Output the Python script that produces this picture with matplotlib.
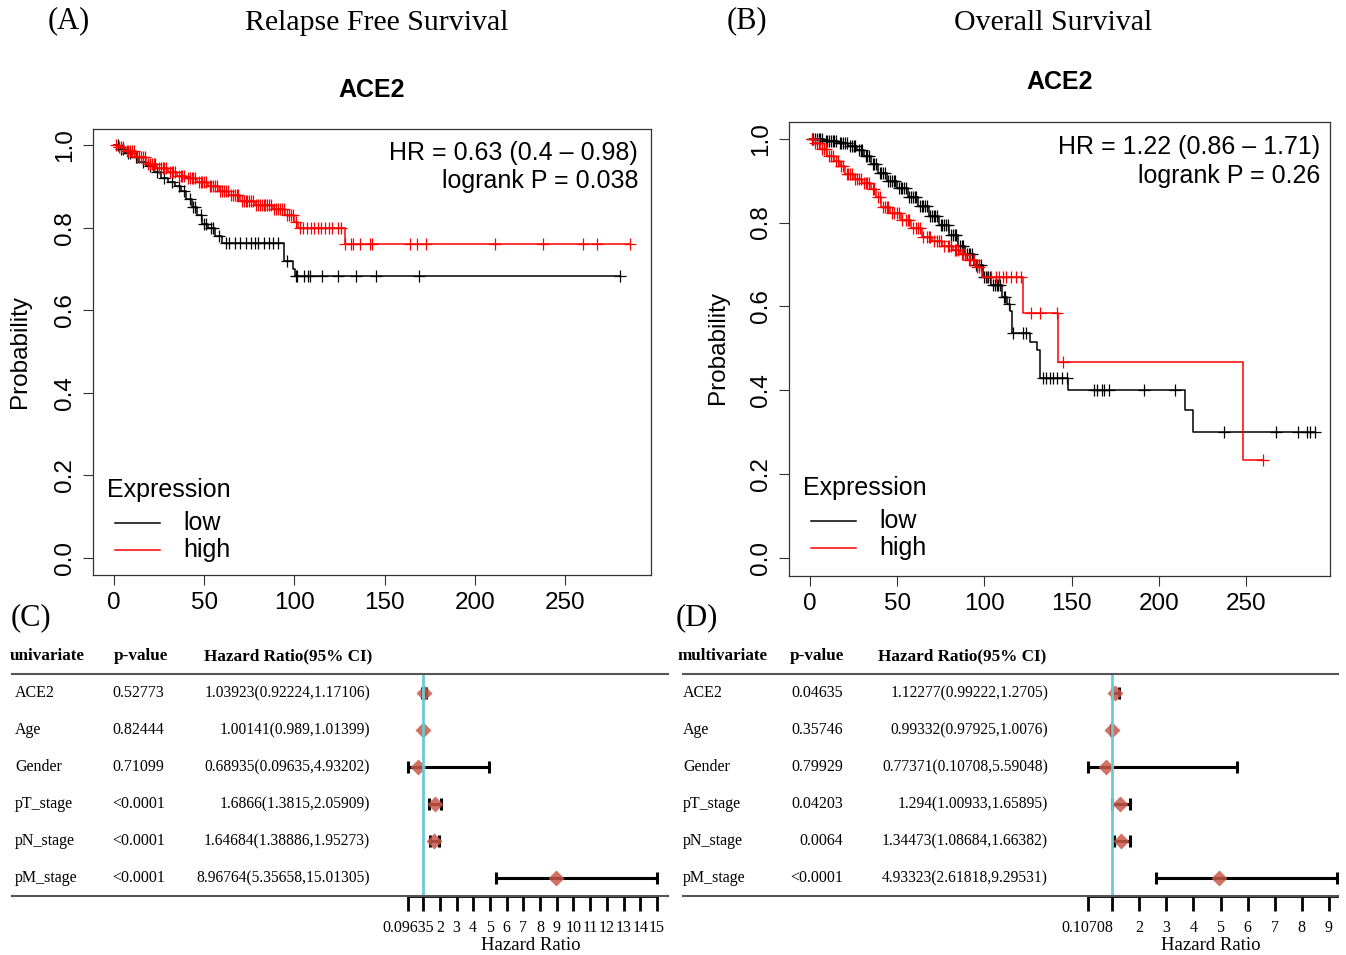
import numpy as np
import matplotlib
matplotlib.use('Agg')
import matplotlib.pyplot as plt
from matplotlib.lines import Line2D

W, H = 1346, 955
SANS = 'Liberation Sans'
SERIF = 'Liberation Serif'

# ---------------------------------------------
# Kaplan-Meier data: step times (months), survival after each step,
# and censoring times
# ---------------------------------------------
rfs_low_time = [0, 3, 6, 10, 14, 18, 22, 26, 30, 34, 37, 40, 43, 46, 49, 52, 56, 60, 94, 99, 100.5]
rfs_low_surv = [1.0, 0.99, 0.98, 0.97, 0.96, 0.95, 0.935, 0.92, 0.91, 0.90, 0.89, 0.87, 0.85,
                0.83, 0.81, 0.80, 0.78, 0.763, 0.72, 0.70, 0.683]
rfs_low_cens = [2, 4, 5, 8, 9, 12, 13, 16, 20, 24, 28, 32, 36, 39, 42, 44, 45, 48, 50, 51, 54, 55,
                58, 62, 64, 67, 70, 73, 76, 78, 80, 83, 86, 88, 91, 96, 100.7, 101.7, 105.6, 107.7,
                108.8, 115.6, 124.4, 134.4, 145.5, 169.2, 280.4]

rfs_high_time = [0, 2, 6, 12, 18, 24, 30, 35, 40, 46, 52, 58, 64, 70, 78, 88, 95, 100, 102, 128]
rfs_high_surv = [1.0, 0.995, 0.985, 0.97, 0.955, 0.945, 0.935, 0.925, 0.92, 0.91, 0.90, 0.89,
                 0.88, 0.865, 0.855, 0.845, 0.83, 0.815, 0.80, 0.76]
rfs_high_cens = [1, 3, 4, 5, 7, 8, 9, 10, 11, 13, 14, 15, 16, 17, 19, 20, 21, 22, 23, 25, 26, 27,
                 28, 29, 31, 32, 33, 34, 36, 37, 38, 39, 41, 42, 43, 44, 45, 47, 48, 49, 50, 51,
                 53, 54, 55, 56, 57, 59, 60, 61, 62, 63, 65, 66, 67, 68, 69, 71, 72, 73, 74, 75,
                 76, 77, 79, 80, 81, 82, 83, 84, 85, 86, 87, 89, 90, 91, 92, 93, 94, 96, 97, 98,
                 99, 101, 103, 105, 107, 109, 111, 113, 115, 117, 119, 121, 124, 126, 128, 131.6,
                 132.5, 136.6, 142, 143, 164, 168, 173, 211, 238, 260, 268, 286]

os_low_time = [0, 8, 16, 22, 27, 31, 35, 39, 44, 50, 56, 62, 68, 74, 80, 85, 89, 94, 99, 104,
               110, 113, 115, 116, 126, 130, 132, 148, 215, 219.7]
os_low_surv = [1.0, 0.995, 0.99, 0.983, 0.974, 0.96, 0.94, 0.918, 0.90, 0.883, 0.862, 0.84,
               0.815, 0.795, 0.77, 0.745, 0.725, 0.70, 0.67, 0.65, 0.623, 0.605, 0.59, 0.537,
               0.516, 0.497, 0.43, 0.40, 0.353, 0.30]
os_low_cens = [1, 2, 3, 4, 5, 6, 7, 9, 10, 11, 12, 13, 14, 15, 17, 18, 19, 20, 21, 23, 24, 25,
               26, 28, 29, 30, 32, 33, 34, 36, 37, 38, 40, 41, 42, 43, 45, 46, 47, 48, 49, 51,
               52, 53, 54, 55, 57, 58, 59, 60, 61, 63, 64, 65, 66, 67, 69, 70, 71, 72, 73, 75,
               76, 77, 78, 79, 81, 82, 83, 84, 86, 87, 88, 90, 91, 92, 93, 95, 96, 97, 98, 100,
               101, 102, 103, 105, 106, 107, 108, 109, 111, 112, 114, 116.3, 122, 124, 133.6,
               135.6, 137.6, 139.5, 141.5, 144.4, 147.3, 162.8, 164.6, 167.5, 168.6, 171.4,
               191.4, 209.5, 237.4, 267, 279.8, 284.9, 286.8, 289.6]

os_high_time = [0, 2, 6, 10, 14, 17, 20, 25, 30, 35, 38, 41, 46, 52, 58, 64, 70, 76, 82, 86,
                90, 95, 98.8, 122, 142, 248.6]
os_high_surv = [1.0, 0.99, 0.975, 0.96, 0.948, 0.935, 0.915, 0.905, 0.895, 0.88, 0.86, 0.838,
                0.823, 0.807, 0.787, 0.766, 0.756, 0.745, 0.735, 0.725, 0.71, 0.695, 0.671,
                0.585, 0.468, 0.234]
os_high_cens = [1, 3, 4, 5, 7, 8, 9, 11, 12, 13, 15, 16, 18, 19, 21, 22, 23, 24, 26, 27, 28, 29,
                31, 32, 33, 34, 36, 37, 39, 40, 42, 43, 44, 45, 47, 48, 50, 51, 53, 55, 56, 57,
                59, 61, 62, 63, 65, 67, 68, 69, 71, 73, 74, 75, 77, 79, 80, 81, 83, 84, 85, 87,
                88, 89, 91, 92, 94, 96, 97, 101.8, 103.8, 106.6, 108.4, 110.5, 112.4, 115.3,
                118, 121, 126.7, 131.9, 141.8, 144.9, 259.6]

km_xticks = [0, 50, 100, 150, 200, 250]
km_yticks = [0.0, 0.2, 0.4, 0.6, 0.8, 1.0]

# ---------------------------------------------
# Cox regression tables
# ---------------------------------------------
variables = ['ACE2', 'Age', 'Gender', 'pT_stage', 'pN_stage', 'pM_stage']

uni_p = ['0.52773', '0.82444', '0.71099', '<0.0001', '<0.0001', '<0.0001']
uni_hr = [1.03923, 1.00141, 0.68935, 1.6866, 1.64684, 8.96764]
uni_lo = [0.92224, 0.989, 0.09635, 1.3815, 1.38886, 5.35658]
uni_hi = [1.17106, 1.01399, 4.93202, 2.05909, 1.95273, 15.01305]
uni_ci = ['1.03923(0.92224,1.17106)', '1.00141(0.989,1.01399)', '0.68935(0.09635,4.93202)',
          '1.6866(1.3815,2.05909)', '1.64684(1.38886,1.95273)', '8.96764(5.35658,15.01305)']
uni_ticks = [0.09635, 1, 2, 3, 4, 5, 6, 7, 8, 9, 10, 11, 12, 13, 14, 15]
uni_ticklabels = ['0.09635', '', '2', '3', '4', '5', '6', '7', '8', '9', '10', '11', '12',
                  '13', '14', '15']

multi_p = ['0.04635', '0.35746', '0.79929', '0.04203', '0.0064', '<0.0001']
multi_hr = [1.12277, 0.99332, 0.77371, 1.294, 1.34473, 4.93323]
multi_lo = [0.99222, 0.97925, 0.10708, 1.00933, 1.08684, 2.61818]
multi_hi = [1.2705, 1.0076, 5.59048, 1.65895, 1.66382, 9.29531]
multi_ci = ['1.12277(0.99222,1.2705)', '0.99332(0.97925,1.0076)', '0.77371(0.10708,5.59048)',
            '1.294(1.00933,1.65895)', '1.34473(1.08684,1.66382)', '4.93323(2.61818,9.29531)']
multi_ticks = [0.10708, 1, 2, 3, 4, 5, 6, 7, 8, 9]
multi_ticklabels = ['0.10708', '', '2', '3', '4', '5', '6', '7', '8', '9']

fig = plt.figure(figsize=(W / 100, H / 100), dpi=100)


def px_axes(left, top, right, bottom):
    return fig.add_axes([left / W, 1 - bottom / H, (right - left) / W, (bottom - top) / H])


def txt(x, y, s, **kw):
    kw.setdefault('va', 'center')
    fig.text(x / W, 1 - y / H, s, **kw)


def hline(x0, x1, y, lw=1.5, color='#555555'):
    fig.add_artist(Line2D([x0 / W, x1 / W], [1 - y / H, 1 - y / H], lw=lw, color=color,
                          transform=fig.transFigure))


def km_panel(ax, curves, xlim, ylim):
    for times, surv, cens, color in curves:
        times = np.asarray(times)
        surv = np.asarray(surv)
        cens = np.asarray(cens)
        t_end = max(times.max(), cens.max())
        ax.step(np.append(times, t_end), np.append(surv, surv[-1]), where='post',
                color=color, lw=1.1)
        idx = np.searchsorted(times, cens, side='right') - 1
        ax.plot(cens, surv[idx], ls='none', marker='+', ms=8.5, mew=0.9, color=color)
    ax.set_xlim(xlim)
    ax.set_ylim(ylim)
    ax.set_xticks(km_xticks)
    ax.set_yticks(km_yticks)
    ax.set_yticklabels([f'{v:.1f}' for v in km_yticks], rotation=90, va='center')
    ax.tick_params(length=7, width=0.8, labelsize=17.5, pad=5, color='#333333')
    for lab in ax.get_xticklabels() + ax.get_yticklabels():
        lab.set_fontfamily(SANS)
    for sp in ax.spines.values():
        sp.set_linewidth(0.9)
        sp.set_color('#333333')


def forest(ax, hr, lo, hi, xmax, ticks, ticklabels):
    rows = np.arange(len(hr))
    ax.hlines(rows, lo, hi, color='black', lw=2.2, zorder=2, clip_on=False)
    ax.plot(lo, rows, ls='none', marker='|', ms=9, mew=2.2, color='black', zorder=2, clip_on=False)
    ax.plot(hi, rows, ls='none', marker='|', ms=9, mew=2.2, color='black', zorder=2, clip_on=False)
    ax.plot(hr, rows, ls='none', marker='D', ms=7.8, color='#c9574a', alpha=0.85, mec='none',
            zorder=3, clip_on=False)
    ax.axvline(1, color='#6ccad2', lw=2, zorder=4)
    ax.set_xlim(ticks[0], xmax)
    ax.set_ylim(5.486, -0.514)
    ax.set_facecolor('none')
    for side in ['left', 'right', 'top']:
        ax.spines[side].set_visible(False)
    ax.spines['bottom'].set_linewidth(2)
    ax.set_yticks([])
    ax.set_xticks(ticks)
    ax.set_xticklabels(ticklabels, fontfamily=SERIF, fontsize=11.5)
    ax.tick_params(axis='x', direction='out', length=11, width=2, pad=6)


# ---------------------------------------------
# (A) Relapse free survival
# ---------------------------------------------
ax_a = px_axes(93, 129, 651, 575)
km_panel(ax_a, [(rfs_low_time, rfs_low_surv, rfs_low_cens, 'black'),
                (rfs_high_time, rfs_high_surv, rfs_high_cens, 'red')],
         (-11.6, 297.7), (-0.041, 1.039))

# ---------------------------------------------
# (B) Overall survival
# ---------------------------------------------
ax_b = px_axes(789, 122, 1330, 576)
km_panel(ax_b, [(os_low_time, os_low_surv, os_low_cens, 'black'),
                (os_high_time, os_high_surv, os_high_cens, 'red')],
         (-12.0, 298.2), (-0.043, 1.04))

# titles and annotations of the KM panels
txt(69, 21, '(A)', ha='center', fontfamily=SERIF, fontsize=22)
txt(377, 23, 'Relapse Free Survival', ha='center', fontfamily=SERIF, fontsize=21.5)
txt(747, 21, '(B)', ha='center', fontfamily=SERIF, fontsize=22)
txt(1053, 23, 'Overall Survival', ha='center', fontfamily=SERIF, fontsize=21.5)

txt(372, 90, 'ACE2', ha='center', fontfamily=SANS, fontsize=18, fontweight='bold')
txt(1060, 82, 'ACE2', ha='center', fontfamily=SANS, fontsize=18, fontweight='bold')

txt(20, 352, 'Probability', ha='center', rotation=90, fontfamily=SANS, fontsize=17.5)
txt(718, 348, 'Probability', ha='center', rotation=90, fontfamily=SANS, fontsize=17.5)

txt(638, 153, 'HR = 0.63 (0.4 \u2013 0.98)', ha='right', fontfamily=SANS, fontsize=18)
txt(638, 181, 'logrank P = 0.038', ha='right', fontfamily=SANS, fontsize=18)
txt(1320, 147, 'HR = 1.22 (0.86 \u2013 1.71)', ha='right', fontfamily=SANS, fontsize=18)
txt(1320, 176, 'logrank P = 0.26', ha='right', fontfamily=SANS, fontsize=18)

# legends
for x0, y0 in [(107, 490), (803, 488)]:
    txt(x0, y0, 'Expression', ha='left', fontfamily=SANS, fontsize=18)
    for k, (lab, col) in enumerate([('low', 'black'), ('high', 'red')]):
        yy = y0 + 33 + 26.5 * k
        fig.add_artist(Line2D([(x0 + 8) / W, (x0 + 53) / W], [1 - yy / H, 1 - yy / H],
                              lw=1.1, color=col, transform=fig.transFigure))
        txt(x0 + 76, yy, lab, ha='left', fontfamily=SANS, fontsize=18)

# ---------------------------------------------
# (C) univariate / (D) multivariate Cox tables
# ---------------------------------------------
row_y0, row_step = 693, 37
tables = [
    dict(label='(C)', lab_x=31, title='univariate', x_title=10, x_pv=114, x_hrh=204,
         x_var=15, pv_x=112, pv_ha='left', ci_x=370, line=(12, 668),
         p=uni_p, ci=uni_ci, hr_label_x=531),
    dict(label='(D)', lab_x=697, title='multivariate', x_title=678, x_pv=790, x_hrh=878,
         x_var=683, pv_x=843, pv_ha='right', ci_x=1048, line=(683, 1338),
         p=multi_p, ci=multi_ci, hr_label_x=1211),
]
for t in tables:
    txt(t['lab_x'], 618, t['label'], ha='center', fontfamily=SERIF, fontsize=22)
    txt(t['x_title'], 656, t['title'], ha='left', fontfamily=SERIF, fontsize=12.3, fontweight='bold')
    txt(t['x_pv'], 656, 'p-value', ha='left', fontfamily=SERIF, fontsize=12.3, fontweight='bold')
    txt(t['x_hrh'], 656, 'Hazard Ratio(95% CI)', ha='left', fontfamily=SERIF, fontsize=12.3,
        fontweight='bold')
    hline(t['line'][0], t['line'][1], 674)
    hline(t['line'][0], t['line'][1], 896)
    for i, name in enumerate(variables):
        yy = row_y0 + row_step * i
        txt(t['x_var'], yy, name, ha='left', fontfamily=SERIF, fontsize=11.5)
        txt(t['pv_x'], yy, t['p'][i], ha=t['pv_ha'], fontfamily=SERIF, fontsize=11.5)
        txt(t['ci_x'], yy, t['ci'][i], ha='right', fontfamily=SERIF, fontsize=11.2)
    txt(t['hr_label_x'], 945, 'Hazard Ratio', ha='center', fontfamily=SERIF, fontsize=13.5)

ax_c = px_axes(408, 674, 657.2, 896)
forest(ax_c, uni_hr, uni_lo, uni_hi, 15.01305, uni_ticks, uni_ticklabels)

ax_d = px_axes(1087.8, 674, 1337, 896)
forest(ax_d, multi_hr, multi_lo, multi_hi, 9.29531, multi_ticks, multi_ticklabels)

fig.savefig('out.png', dpi=100)
